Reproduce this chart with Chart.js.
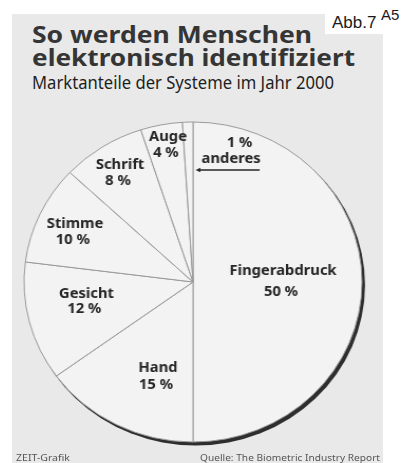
<!DOCTYPE html>
<html>
<head>
<meta charset="utf-8">
<script src="https://cdn.jsdelivr.net/npm/chart.js@4.4.1/dist/chart.umd.min.js"></script>
<style>
  body { margin: 0; width: 407px; height: 463px; background: #fff; position: relative; overflow: hidden; font-family: "Noto Sans", sans-serif; }
  #panel { position: absolute; left: 12px; top: 14px; width: 371px; height: 449px; background: #e9e9e9; }
  #abb { position: absolute; left: 325px; top: 0; width: 82px; height: 34px; background: #fff; }
  .t { position: absolute; white-space: nowrap; line-height: 1; transform-origin: 0 0; }
  .abb { font-family: "Liberation Sans", Arial, sans-serif; color: #1a1a1a; }
  #wrap { position: absolute; left: 23px; top: 112px; width: 340px; height: 340px; transform: scaleX(1.056); transform-origin: 50% 50%; }
</style>
</head>
<body>
<div id="panel"></div>
<div id="abb"></div>
<div class="t abb" style="left:332px;top:14px;font-size:17px">Abb.7</div>
<div class="t abb" style="left:381px;top:7px;font-size:15px">A5</div>

<div class="t" data-w="280" style="left:32px;top:22.6px;font-size:23px;font-weight:700;color:#353535">So werden Menschen</div>
<div class="t" data-w="323" style="left:32px;top:45.6px;font-size:23px;font-weight:700;color:#353535">elektronisch identifiziert</div>
<div class="t" data-w="302" style="left:32px;top:73.3px;font-size:18px;color:#1e1e1e">Marktanteile der Systeme im Jahr 2000</div>

<div id="wrap"><canvas id="pie" width="340" height="340"></canvas></div>

<div class="t" data-w="54" style="left:15.6px;top:452.6px;font-size:9.5px;color:#555">ZEIT-Grafik</div>
<div class="t" data-w="180" style="left:200px;top:452.6px;font-size:9.5px;color:#555">Quelle: The Biometric Industry Report</div>

<script>
// Marktanteile der Systeme im Jahr 2000, im Uhrzeigersinn ab 12 Uhr
const categories = ['Fingerabdruck', 'Hand', 'Gesicht', 'Stimme', 'Schrift', 'Auge', 'anderes'];
const shares = [50, 15, 12, 10, 8, 4, 1];

// Platzierung der Beschriftungen (Anteil vom Radius, Drehung in Grad, Zeilenabstand)
const labelRadius = [0.533, 0.626, 0.643, 0.764, 0.806, 0.87, 0.849];
const labelTurn = [0, -7.7, 3.2, -1.3, 0, 1, 17.2];
const labelGap = [21, 17, 15, 16, 16, 16, 16];

// Titel auf Zielbreite bringen
document.querySelectorAll('.t[data-w]').forEach(el => {
    const w = el.getBoundingClientRect().width;
    el.style.transform = `scaleX(${el.dataset.w / w})`;
});

const rimShadow = {
    id: 'rimShadow',
    beforeDatasetsDraw(chart) {
        const arc = chart.getDatasetMeta(0).data[0];
        const p = arc.getProps(['x', 'y', 'outerRadius'], true);
        const ctx = chart.ctx;
        ctx.save();
        ctx.filter = 'blur(0.6px)';
        ctx.fillStyle = '#2e2e2e';
        ctx.beginPath();
        ctx.arc(p.x + 2.4, p.y + 3, p.outerRadius + 0.5, 0, Math.PI * 2);
        ctx.fill();
        ctx.restore();
    }
};

const sliceLabels = {
    id: 'sliceLabels',
    afterDatasetsDraw(chart) {
        const ctx = chart.ctx;
        const arcs = chart.getDatasetMeta(0).data;
        ctx.save();
        ctx.fillStyle = '#262626';
        ctx.strokeStyle = '#262626';
        ctx.textAlign = 'center';
        ctx.textBaseline = 'middle';
        ctx.font = 'bold 14px "Noto Sans"';
        arcs.forEach((arc, i) => {
            const p = arc.getProps(['x', 'y', 'startAngle', 'endAngle', 'outerRadius'], true);
            const a = (p.startAngle + p.endAngle) / 2 + labelTurn[i] * Math.PI / 180;
            const r = p.outerRadius * labelRadius[i];
            const lx = p.x + Math.cos(a) * r;
            const ly = p.y + Math.sin(a) * r;
            const g = labelGap[i] / 2;
            const pct = shares[i] + ' %';
            if (i === categories.length - 1) {
                // kleiner Anteil: Text außerhalb mit Pfeil
                ctx.fillText(pct, lx + 8, ly - g);
                ctx.fillText(categories[i], lx, ly + g);
                const w = ctx.measureText(categories[i]).width;
                const ay = ly + g + 11;
                ctx.lineWidth = 1.5;
                ctx.beginPath();
                ctx.moveTo(lx + w / 2 - 1, ay);
                ctx.lineTo(p.x + 5, ay);
                ctx.stroke();
                ctx.beginPath();
                ctx.moveTo(p.x + 2.5, ay);
                ctx.lineTo(p.x + 7, ay - 2.2);
                ctx.lineTo(p.x + 7, ay + 2.2);
                ctx.closePath();
                ctx.fill();
            } else {
                ctx.fillText(categories[i], lx, ly - g);
                ctx.fillText(pct, lx - 2, ly + g);
            }
        });
        ctx.restore();
    }
};

const ctx = document.getElementById('pie').getContext('2d');
const chart = new Chart(ctx, {
    type: 'pie',
    data: {
        labels: categories,
        datasets: [{
            data: shares,
            backgroundColor: '#f3f3f3',
            borderColor: '#9a9a9a',
            borderWidth: 1,
            radius: 160
        }]
    },
    options: {
        responsive: false,
        animation: false,
        layout: { padding: 0 },
        plugins: {
            legend: { display: false },
            tooltip: { enabled: false }
        }
    },
    plugins: [rimShadow, sliceLabels]
});
</script>
</body>
</html>
